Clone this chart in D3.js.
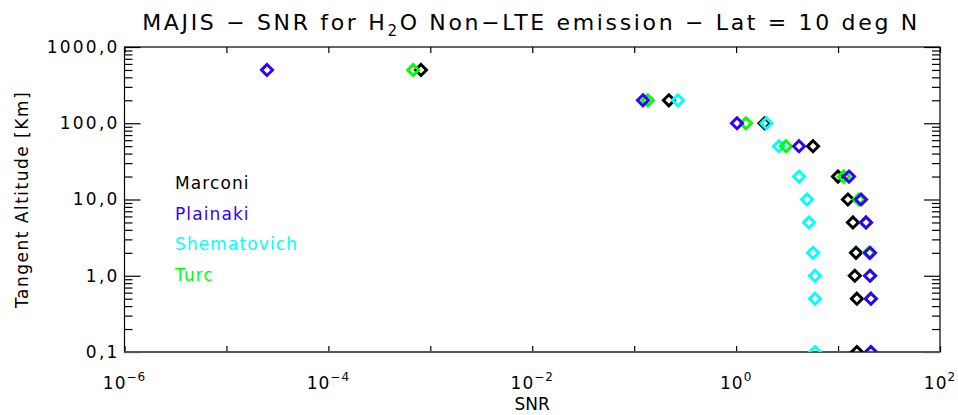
<!DOCTYPE html>
<html>
<head>
<meta charset="utf-8">
<script src="https://cdn.jsdelivr.net/npm/d3@7"></script>
<style>
  body { margin: 0; background: #fff; }
  text { font-family: "DejaVu Sans", sans-serif; }
</style>
</head>
<body>
<svg width="958" height="415"></svg>
<script>
// altitudes (km) and SNR per model
const altitudes = [500, 200, 100, 50, 20, 10, 5, 2, 1, 0.5, 0.1];
const marconi     = [8.1e-4, 0.219, 1.9, 5.68, 9.98, 12.5, 14.0, 15.0, 14.6, 15.3, 15.3];
const plainaki    = [2.5e-5, 0.122, 1.02, 4.14, 12.8, 16.8, 18.8, 20.6, 20.6, 21.0, 21.0];
const shematovich = [null, 0.269, 1.98, 2.63, 4.14, 4.96, 5.19, 5.68, 5.94, 5.94, 5.94];
const turc        = [6.8e-4, 0.136, 1.25, 3.08, 11.4, 16.0, 18.8, 20.1, 20.6, 21.0, 21.0];

const seriesNames  = ['Marconi', 'Plainaki', 'Shematovich', 'Turc'];
const seriesColors = ['#000000', '#3300ff', '#00ffff', '#00ff00'];
const seriesValues = [marconi, plainaki, shematovich, turc];
const drawOrder = [0, 2, 3, 1];

const yTicks = [0.1, 1, 10, 100, 1000];
const yTickLabels = ['0,1', '1,0', '10,0', '100,0', '1000,0'];
const xTicks = [1e-6, 1e-5, 1e-4, 1e-3, 1e-2, 1e-1, 1, 10, 100];
const xLabelExps = ['-6', '-4', '-2', '0', '2'];

const svg = d3.select('svg');
const plotL = 124.5, plotR = 940, plotT = 47, plotB = 352;

const x = d3.scaleLog().domain([1e-6, 1e2]).range([plotL, plotR]);
const y = d3.scaleLog().domain([0.1, 1000]).range([plotB, plotT]);

const yMinor = [];
[0.1, 1, 10, 100].forEach(d => { for (let k = 2; k <= 9; k++) yMinor.push(d * k); });

svg.append('clipPath').attr('id', 'plot')
  .append('rect')
    .attr('x', plotL).attr('y', plotT)
    .attr('width', plotR - plotL).attr('height', plotB - plotT);

// frame
svg.append('rect')
    .attr('x', plotL).attr('y', plotT)
    .attr('width', plotR - plotL).attr('height', plotB - plotT)
    .attr('fill', 'none')
    .attr('stroke', '#000')
    .attr('stroke-width', 1.2);

const styleAxis = g => {
  g.select('.domain').remove();
  g.selectAll('line').attr('stroke', '#000').attr('stroke-width', 1.2);
  g.selectAll('text')
    .attr('fill', '#000')
    .style('font-size', '17px')
    .style('letter-spacing', '2.2px');
};

// left axis
svg.append('g')
    .attr('transform', `translate(${plotL},0)`)
    .call(d3.axisLeft(y).tickValues(yTicks).tickSizeInner(-16).tickSizeOuter(0)
      .tickPadding(5).tickFormat((d, i) => yTickLabels[i]))
    .call(styleAxis);
svg.append('g')
    .attr('transform', `translate(${plotL},0)`)
    .call(d3.axisLeft(y).tickValues(yMinor).tickSizeInner(-8).tickSizeOuter(0).tickFormat(''))
    .call(styleAxis);

// right axis
svg.append('g')
    .attr('transform', `translate(${plotR},0)`)
    .call(d3.axisRight(y).tickValues(yTicks).tickSizeInner(-16).tickSizeOuter(0).tickFormat(''))
    .call(styleAxis);
svg.append('g')
    .attr('transform', `translate(${plotR},0)`)
    .call(d3.axisRight(y).tickValues(yMinor).tickSizeInner(-8).tickSizeOuter(0).tickFormat(''))
    .call(styleAxis);

// bottom / top axes
svg.append('g')
    .attr('transform', `translate(0,${plotB})`)
    .call(d3.axisBottom(x).tickValues(xTicks).tickSizeInner(-6).tickSizeOuter(0).tickFormat(''))
    .call(styleAxis);
svg.append('g')
    .attr('transform', `translate(0,${plotT})`)
    .call(d3.axisTop(x).tickValues(xTicks).tickSizeInner(-6).tickSizeOuter(0).tickFormat(''))
    .call(styleAxis);

svg.append('line')
    .attr('x1', plotL).attr('x2', plotR)
    .attr('y1', plotB).attr('y2', plotB)
    .attr('stroke', '#555').attr('stroke-width', 2);

// x labels with exponents
const xl = svg.append('g').selectAll('text')
  .data(xLabelExps)
  .join('text')
    .attr('x', d => x(Math.pow(10, +d)))
    .attr('y', 389)
    .attr('text-anchor', 'middle')
    .style('font-size', '17px')
    .style('letter-spacing', '1px');
xl.append('tspan').text('10');
xl.append('tspan').attr('dy', -8).style('font-size', '12px').text(d => d.replace('-', '\u2212'));

svg.append('text')
    .attr('x', (plotL + plotR) / 2).attr('y', 410)
    .attr('text-anchor', 'middle')
    .style('font-size', '17px')
    .text('SNR');

svg.append('text')
    .attr('transform', `translate(28,${(plotT + plotB) / 2}) rotate(-90)`)
    .attr('text-anchor', 'middle')
    .style('font-size', '17px')
    .style('letter-spacing', '1.5px')
    .text('Tangent Altitude [Km]');

// title
const title = svg.append('text')
    .attr('x', 531).attr('y', 30)
    .attr('text-anchor', 'middle')
    .style('font-size', '22px');
title.append('tspan').text('MAJIS \u2212 SNR for H');
title.append('tspan').attr('dy', 6).style('font-size', '15px').text('2');
title.append('tspan').attr('dy', -6).text('O Non\u2212LTE emission \u2212 Lat = 10 deg N');
const tw = title.node().getComputedTextLength();
title.style('letter-spacing', `${(775 - tw) / 52}px`);

// points
const diamond = r => `M0,${-r}L${r},0L0,${r}L${-r},0Z`;
const plot = svg.append('g').attr('clip-path', 'url(#plot)');
drawOrder.forEach(s => {
  const pts = altitudes.map((a, i) => ({ a, v: seriesValues[s][i] })).filter(d => d.v != null);
  plot.append('g').selectAll('path')
    .data(pts)
    .join('path')
      .attr('d', diamond(5.5))
      .attr('transform', d => `translate(${x(d.v)},${y(d.a)})`)
      .attr('fill', 'none')
      .attr('stroke', seriesColors[s])
      .attr('stroke-width', 3);
});

// legend
svg.append('g').selectAll('text')
  .data(seriesNames)
  .join('text')
    .attr('x', 175)
    .attr('y', (d, i) => 189 + i * 30.5)
    .attr('fill', (d, i) => seriesColors[i])
    .style('font-size', '17px')
    .style('letter-spacing', '1.1px')
    .text(d => d);
</script>
</body>
</html>
